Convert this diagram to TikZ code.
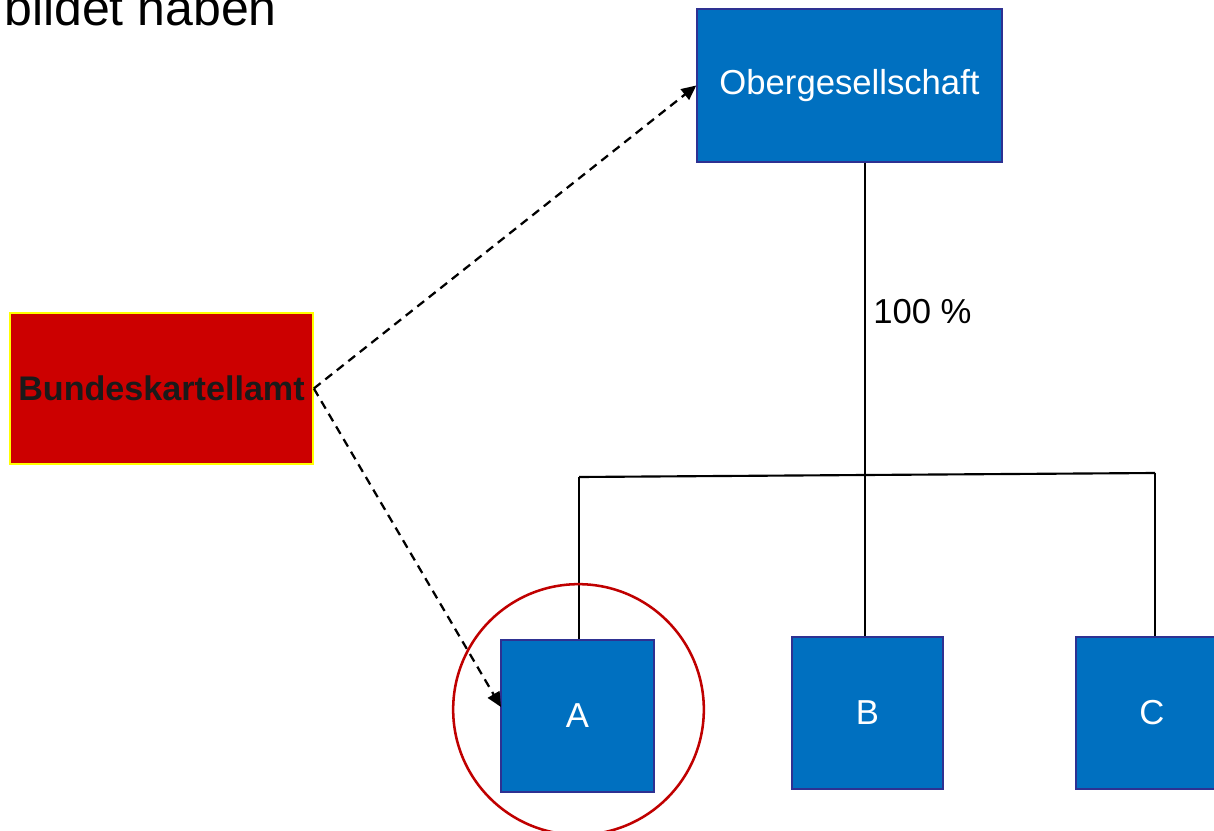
\documentclass[tikz,border=0pt]{standalone}
\usepackage{fontspec}
\setmainfont{Liberation Sans}
\usetikzlibrary{arrows.meta}
\definecolor{boxblue}{HTML}{0070C0}
\definecolor{boxedge}{HTML}{2E3192}
\definecolor{bkred}{HTML}{CC0000}
\definecolor{bkedge}{HTML}{FFFF00}
\definecolor{circred}{HTML}{C00000}
\definecolor{darktext}{HTML}{1A1A1A}
\tikzset{
  bluebox/.style={draw=boxedge, line width=1.1pt, fill=boxblue, text=white,
    font=\fontsize{26pt}{31pt}\selectfont, inner sep=0pt},
  redbox/.style={draw=bkedge, line width=1.5pt, fill=bkred, text=darktext,
    font=\fontsize{25.6pt}{30pt}\selectfont\bfseries, inner sep=0pt,
    minimum width=227pt, minimum height=113pt},
  link/.style={line width=1.6pt, black},
  dasharrow/.style={line width=1.7pt, dash pattern=on 6.5pt off 4.5pt,
    -{Triangle[length=11pt,width=10pt]}},
  plain/.style={font=\fontsize{26pt}{31pt}\selectfont, inner sep=0pt}
}
\begin{document}
\begin{tikzpicture}[x=0.75pt,y=-0.75pt]
\useasboundingbox (0,0) rectangle (1214,831);
\fill[white] (0,0) rectangle (1214,831);

\node[font=\fontsize{37.5pt}{44pt}\selectfont, inner sep=0pt, anchor=base east] (head) at (277,26) {bildet haben};

\node[bluebox, minimum width=228.75pt, minimum height=114.75pt] (ober) at (849.5,85.5) {Obergesellschaft};
\node[redbox] (bka) at (161.5,388.5) {Bundeskartellamt};
\node[bluebox, minimum width=114.75pt, minimum height=114pt] (A) at (577.5,716) {A};
\node[bluebox, minimum width=113.25pt, minimum height=114pt] (B) at (867.5,713) {B};
\node[bluebox, minimum width=114pt, minimum height=114pt] (C) at (1152,713) {C};

\coordinate (J) at (865,475);
\coordinate (L) at (579,477);
\coordinate (R) at (1155,473);
\coordinate (Atip) at (501,707);

\draw[link] (ober.south -| J) -- (J);
\draw[link] (L) -- (J) -- (R);
\draw[link] (L) -- (A.north -| L);
\draw[link] (J) -- (B.north -| J);
\draw[link] (R) -- (C.north -| R);

\node[plain, anchor=west] (pct) at (873,312) {100 \%};

\draw[dasharrow] (bka.east) -- (ober.west);
\draw[dasharrow] (bka.east) -- (Atip);

\node[draw=circred, line width=1.9pt, circle, minimum size=188pt, inner sep=0pt] (ring) at (578.5,709.5) {};
\end{tikzpicture}
\end{document}
